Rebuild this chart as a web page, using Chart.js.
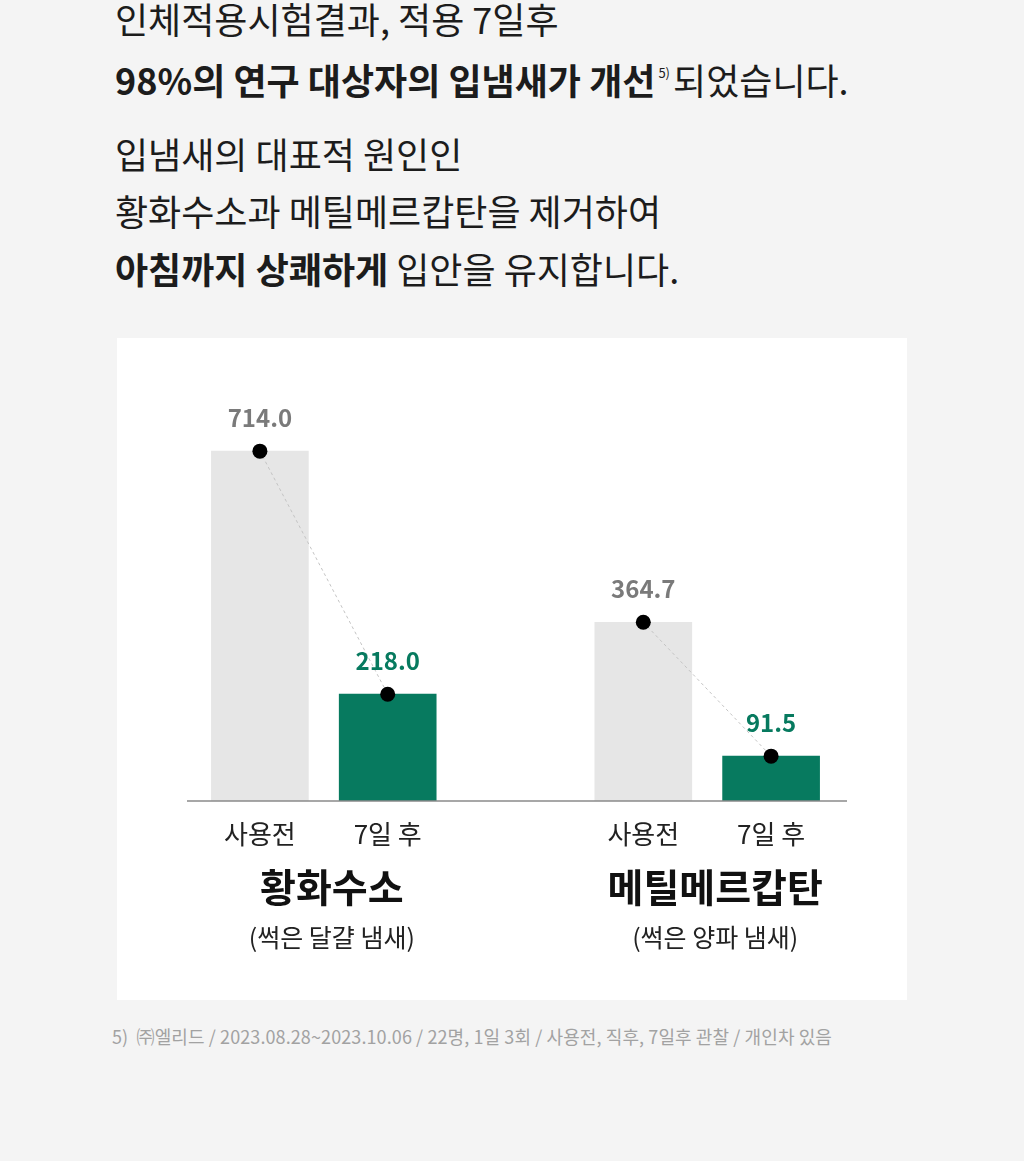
<!DOCTYPE html>
<html><head><meta charset="utf-8">
<script src="https://cdn.jsdelivr.net/npm/chart.js@4"></script>
<style>
html,body{margin:0;padding:0;background:#f4f4f4;width:1024px;height:1161px;overflow:hidden;font-family:"Noto Sans CJK KR",sans-serif;color:#1c1c1c;}
.t{position:absolute;left:115px;font-size:36px;line-height:50px;white-space:nowrap;letter-spacing:0px}
.b{font-weight:700}
.sup{font-size:13px;font-weight:400;position:relative;top:-17px;margin-left:3px;margin-right:3px}
#card{position:absolute;left:117px;top:338px;width:790px;height:662px;background:#fff}
#foot{position:absolute;left:112px;top:1023px;font-size:18px;color:#a2a2a2;line-height:26px;white-space:nowrap;letter-spacing:0.1px}
</style></head>
<body>
<div class="t" style="top:-7px">인체적용시험결과, 적용 7일후</div>
<div class="t" style="top:54px"><span class="b">98%의 연구 대상자의 입냄새가 개선</span><span class="sup">5)</span>되었습니다.</div>
<div class="t" style="top:128px">입냄새의 대표적 원인인</div>
<div class="t" style="top:185px">황화수소과 메틸메르캅탄을 제거하여</div>
<div class="t" style="top:243px"><span class="b">아침까지 상쾌하게</span> 입안을 유지합니다.</div>
<div id="card"><canvas id="c" width="790" height="662"></canvas></div>
<div id="foot">5)&nbsp;&nbsp;㈜엘리드 / 2023.08.28~2023.10.06 / 22명, 1일 3회 / 사용전, 직후, 7일후 관찰 / 개인차 있음</div>
<script>
const categories = ['사용전', '7일 후', '', '사용전', '7일 후'];
const values = [714.0, 218.0, null, 364.7, 91.5];
const groups = ['황화수소', '메틸메르캅탄'];
const groupNotes = ['(썩은 달걀 냄새)', '(썩은 양파 냄새)'];
const groupMembers = [[0, 1], [3, 4]];
const barColors = ['#e6e6e6', '#077a5f', 'rgba(0,0,0,0)', '#e6e6e6', '#077a5f'];
const labelColors = ['#7a7a7a', '#077a5f', '#000', '#7a7a7a', '#077a5f'];
const FONT = '"Noto Sans CJK KR", sans-serif';

const decor = {
  id: 'decor',
  afterDatasetsDraw(chart) {
    const ctx = chart.ctx, xs = chart.scales.x, ys = chart.scales.y, ca = chart.chartArea;
    const base = ys.getPixelForValue(0);
    ctx.save();
    ctx.strokeStyle = '#8a8a8a';
    ctx.lineWidth = 1.5;
    ctx.beginPath();
    ctx.moveTo(ca.left - 9, base);
    ctx.lineTo(ca.right + 12, base);
    ctx.stroke();
    ctx.textAlign = 'center';
    ctx.textBaseline = 'middle';
    ctx.font = 'bold 24px ' + FONT;
    values.forEach((v, i) => {
      if (v === null) return;
      ctx.fillStyle = labelColors[i];
      ctx.fillText(v.toFixed(1), xs.getPixelForValue(i), ys.getPixelForValue(v) - 33);
    });
    groups.forEach((g, k) => {
      const m = groupMembers[k];
      const cx = (xs.getPixelForValue(m[0]) + xs.getPixelForValue(m[1])) / 2 + 8;
      ctx.fillStyle = '#111';
      ctx.font = 'bold 39px ' + FONT;
      ctx.fillText(g, cx, base + 86);
      ctx.fillStyle = '#222';
      ctx.font = '25px ' + FONT;
      ctx.fillText(groupNotes[k], cx, base + 136);
    });
    ctx.restore();
  }
};

new Chart(document.getElementById('c'), {
  data: {
    labels: categories,
    datasets: [
      {
        type: 'line', data: values, order: 1,
        borderColor: '#c4c4c4', borderWidth: 1, borderDash: [3, 3],
        pointRadius: 7.5, pointHoverRadius: 7.5, pointBackgroundColor: '#000', pointBorderWidth: 0,
        spanGaps: false, tension: 0
      },
      {
        type: 'bar', data: values, order: 2,
        backgroundColor: barColors, barThickness: 97, borderWidth: 0
      }
    ]
  },
  options: {
    responsive: false, animation: false, devicePixelRatio: 1,
    layout: { padding: { left: 79, right: 72, top: 71, bottom: 0 } },
    plugins: { legend: { display: false }, tooltip: { enabled: false } },
    scales: {
      y: { display: false, min: 0, max: 800 },
      x: {
        offset: true,
        grid: { display: false, drawTicks: false },
        border: { display: false },
        ticks: { color: '#222', padding: 18, font: { family: FONT, size: 26 } },
        afterFit(scale) { scale.height = 199; }
      }
    }
  },
  plugins: [decor]
});
</script>
</body></html>
